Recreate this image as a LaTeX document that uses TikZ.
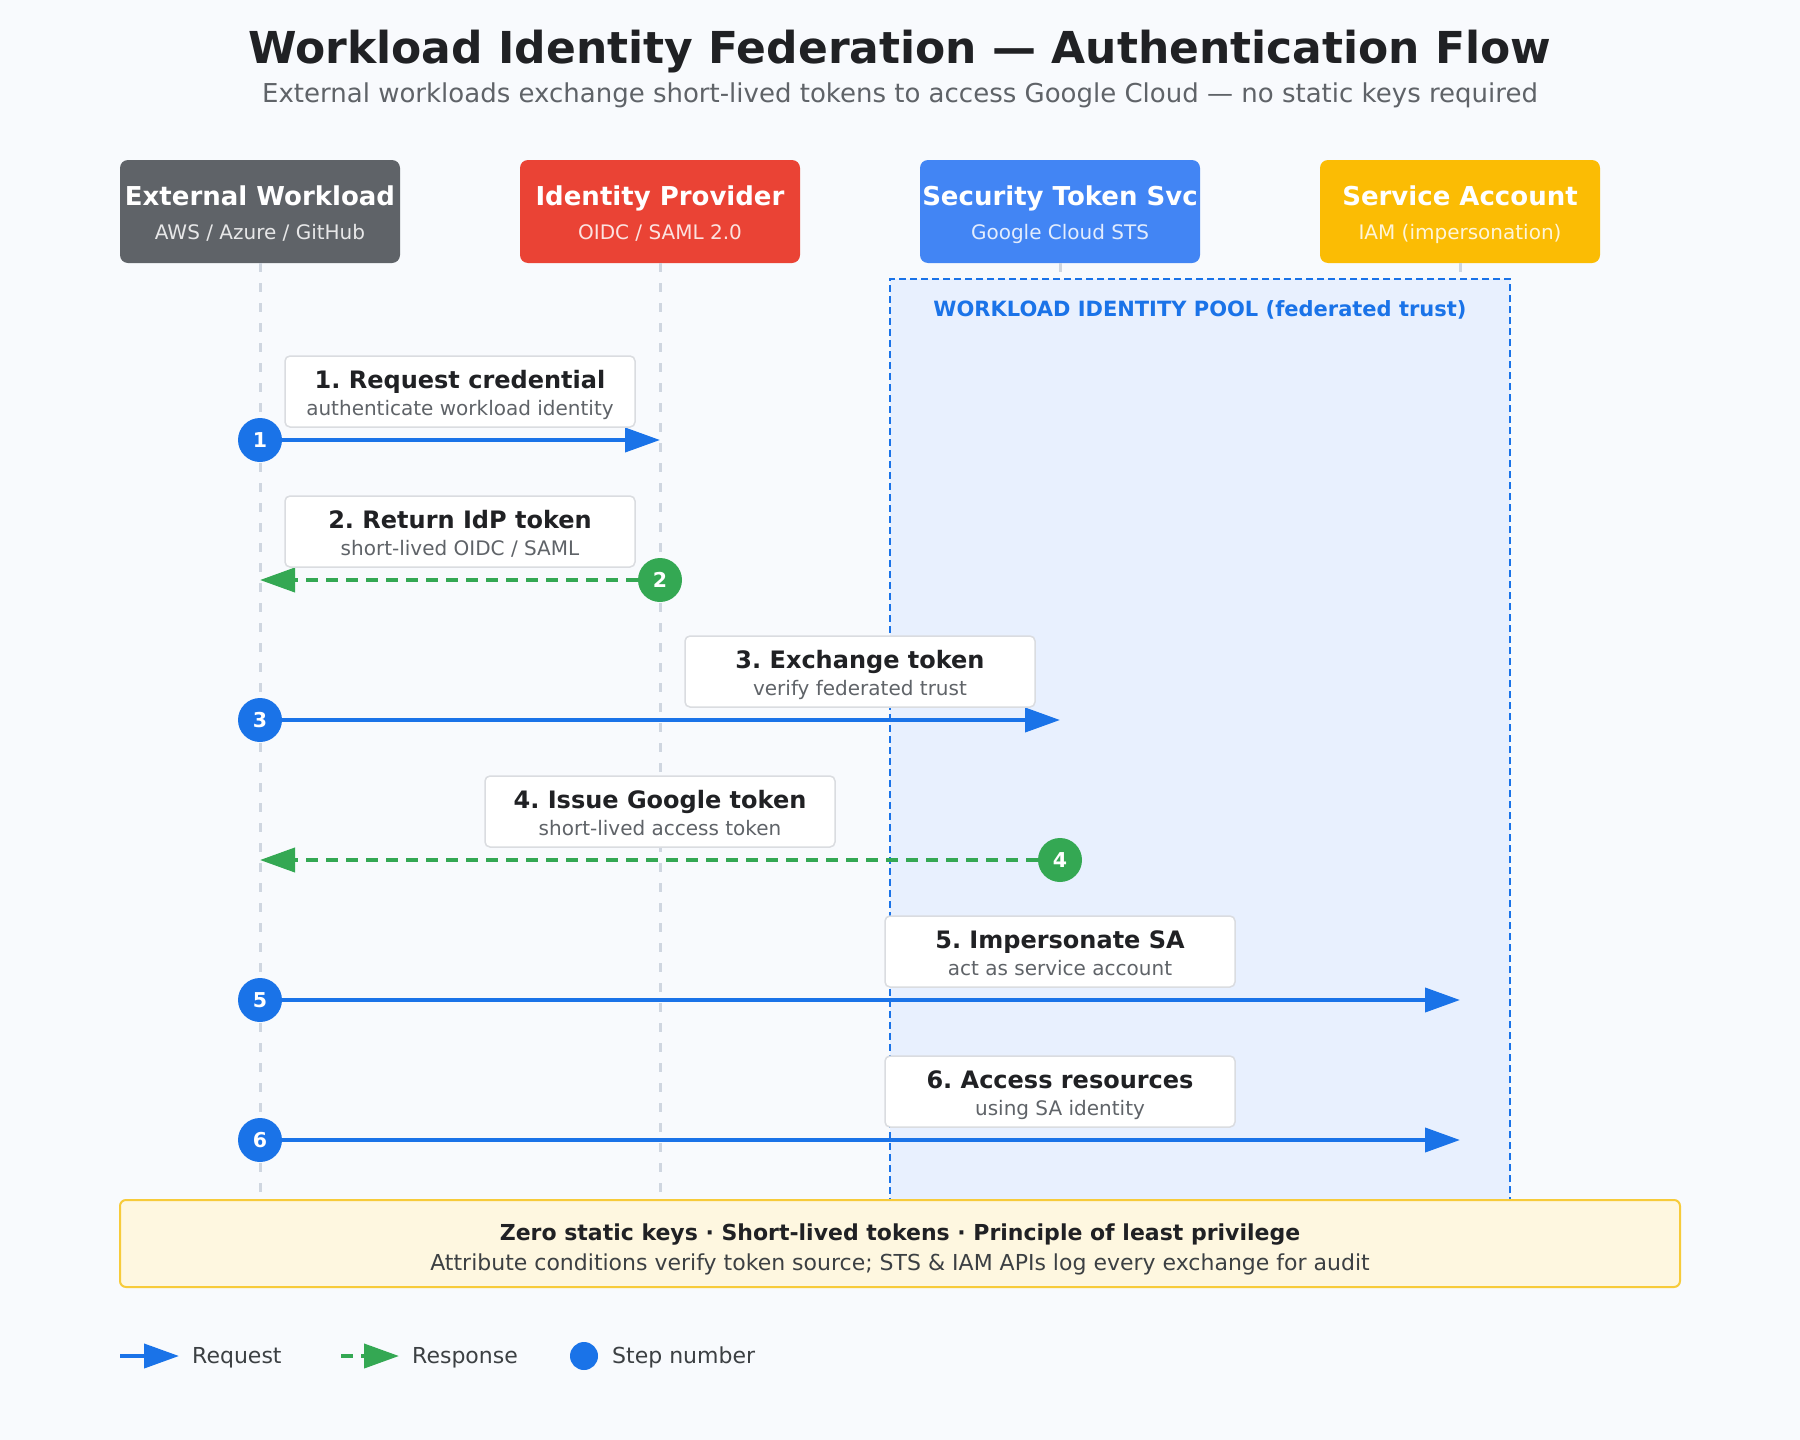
\documentclass[tikz,border=0pt]{standalone}
\usepackage{fontspec}
\setmainfont{DejaVu Sans}
\usetikzlibrary{arrows.meta}

\definecolor{bg}{HTML}{F8FAFD}
\definecolor{ink}{HTML}{202124}
\definecolor{subink}{HTML}{5F6368}
\definecolor{legendink}{HTML}{3C4043}
\definecolor{gwork}{HTML}{5F6368}
\definecolor{gred}{HTML}{EA4335}
\definecolor{gblue}{HTML}{4285F4}
\definecolor{gyellow}{HTML}{FBBC04}
\definecolor{reqblue}{HTML}{1A73E8}
\definecolor{resgreen}{HTML}{34A853}
\definecolor{poolfill}{HTML}{E8F0FE}
\definecolor{lifegray}{HTML}{CFD6E0}
\definecolor{notefill}{HTML}{FEF7E0}
\definecolor{noteedge}{HTML}{F7CB3A}
\definecolor{boxedge}{HTML}{DADCE0}

\newcommand{\fsz}[2]{\fontsize{#1}{#2}\selectfont}

\tikzset{
  txt/.style={inner sep=0pt, anchor=base},
  actor/.style={rectangle, rounded corners=8pt, minimum width=280pt, minimum height=103pt, inner sep=0pt},
  actortitle/.style={txt, text=white, font=\bfseries\fsz{26}{30}},
  actorsub/.style={txt, text=white, text opacity=0.85, font=\fsz{20}{24}},
  lifeline/.style={draw=lifegray, line width=3pt, dash pattern=on 9pt off 11pt},
  pool/.style={rectangle, fill=poolfill, draw=reqblue, line width=2.5pt, dash pattern=on 7pt off 4pt, minimum width=620pt, minimum height=921pt, inner sep=0pt},
  stepdot/.style={circle, minimum size=44pt, inner sep=0pt, text=white, font=\bfseries\fsz{20.5}{24}},
  reqline/.style={draw=reqblue, line width=4pt, -{Triangle[length=35pt,width=24pt]}},
  resline/.style={draw=resgreen, line width=4pt, dash pattern=on 12pt off 8pt, -{Triangle[length=35pt,width=24pt]}},
  msgbox/.style={rectangle, rounded corners=5pt, fill=white, draw=boxedge, line width=1.5pt, minimum width=350pt, minimum height=71pt, inner sep=0pt},
  msgtitle/.style={txt, text=ink, font=\bfseries\fsz{24}{28}},
  msgsub/.style={txt, text=subink, font=\fsz{20}{24}},
  legendtext/.style={text=legendink, font=\fsz{22}{26}, anchor=base west, inner sep=0pt}
}

\begin{document}
\frenchspacing
\begin{tikzpicture}[x=1pt, y=-1pt]
  % canvas
  \fill[bg] (0,0) rectangle (1800,1440);
  \useasboundingbox (0,0) rectangle (1800,1440);

  % heading
  \node[txt, text=ink, font=\bfseries\fsz{44}{50}] (title) at (900,63) {Workload Identity Federation — Authentication Flow};
  \node[txt, text=subink, font=\fsz{26}{30}] (subtitle) at (900,102.5) {External workloads exchange short-lived tokens to access Google Cloud — no static keys required};

  % participants
  \node[actor, fill=gwork]   (ew)  at (260,211.5) {};
  \node[actor, fill=gred]    (idp) at (660,211.5) {};
  \node[actor, fill=gblue]   (sts) at (1060,211.5) {};
  \node[actor, fill=gyellow] (sa)  at (1460,211.5) {};

  \node[actortitle] (ewT)  at (260,205)  {External Workload};
  \node[actorsub]   (ewS)  at (260,239)  {AWS / Azure / GitHub};
  \node[actortitle] (idpT) at (660,205)  {Identity Provider};
  \node[actorsub]   (idpS) at (660,239)  {OIDC / SAML 2.0};
  \node[actortitle] (stsT) at (1060,205) {Security Token Svc};
  \node[actorsub]   (stsS) at (1060,239) {Google Cloud STS};
  \node[actortitle] (saT)  at (1460,205) {Service Account};
  \node[actorsub]   (saS)  at (1460,239) {IAM (impersonation)};

  % lifelines
  \coordinate (ewEnd)  at (260,1198);
  \coordinate (idpEnd) at (660,1198);
  \coordinate (stsEnd) at (1060,1198);
  \coordinate (saEnd)  at (1460,1198);
  \draw[lifeline] (ew.south)  -- (ewEnd);
  \draw[lifeline] (idp.south) -- (idpEnd);
  \draw[lifeline] (sts.south) -- (stsEnd);
  \draw[lifeline] (sa.south)  -- (saEnd);

  % trust boundary
  \node[pool] (pool) at (1200,739.5) {};
  \node[txt, text=reqblue, font=\bfseries\fsz{21}{25}] (poolT) at (1200,316) {WORKLOAD IDENTITY POOL (federated trust)};

  % step 1
  \coordinate (t1) at (660,440);
  \node[stepdot, fill=reqblue] (s1) at (260,440) {1};
  \draw[reqline] (s1) -- (t1);
  \node[msgbox] (m1) at (460,391.5) {};
  \node[msgtitle] (m1T) at (460,388) {1. Request credential};
  \node[msgsub]   (m1S) at (460,415.5) {authenticate workload identity};

  % step 2
  \coordinate (t2) at (260,580);
  \node[stepdot, fill=resgreen] (s2) at (660,580) {2};
  \draw[resline] (s2) -- (t2);
  \node[msgbox] (m2) at (460,531.5) {};
  \node[msgtitle] (m2T) at (460,528) {2. Return IdP token};
  \node[msgsub]   (m2S) at (460,555.5) {short-lived OIDC / SAML};

  % step 3
  \coordinate (t3) at (1060,720);
  \node[stepdot, fill=reqblue] (s3) at (260,720) {3};
  \draw[reqline] (s3) -- (t3);
  \node[msgbox] (m3) at (860,671.5) {};
  \node[msgtitle] (m3T) at (860,668) {3. Exchange token};
  \node[msgsub]   (m3S) at (860,695.5) {verify federated trust};

  % step 4
  \coordinate (t4) at (260,860);
  \node[stepdot, fill=resgreen] (s4) at (1060,860) {4};
  \draw[resline] (s4) -- (t4);
  \node[msgbox] (m4) at (660,811.5) {};
  \node[msgtitle] (m4T) at (660,808) {4. Issue Google token};
  \node[msgsub]   (m4S) at (660,835.5) {short-lived access token};

  % step 5
  \coordinate (t5) at (1460,1000);
  \node[stepdot, fill=reqblue] (s5) at (260,1000) {5};
  \draw[reqline] (s5) -- (t5);
  \node[msgbox] (m5) at (1060,951.5) {};
  \node[msgtitle] (m5T) at (1060,948) {5. Impersonate SA};
  \node[msgsub]   (m5S) at (1060,975.5) {act as service account};

  % step 6
  \coordinate (t6) at (1460,1140);
  \node[stepdot, fill=reqblue] (s6) at (260,1140) {6};
  \draw[reqline] (s6) -- (t6);
  \node[msgbox] (m6) at (1060,1091.5) {};
  \node[msgtitle] (m6T) at (1060,1088) {6. Access resources};
  \node[msgsub]   (m6S) at (1060,1115.5) {using SA identity};

  % summary banner
  \node[rectangle, rounded corners=6pt, fill=notefill, draw=noteedge, line width=2pt, minimum width=1560pt, minimum height=87pt, inner sep=0pt] (note) at (900,1243.5) {};
  \node[txt, text=ink, font=\bfseries\fsz{22}{26}] (noteT) at (900,1240) {Zero static keys · Short-lived tokens · Principle of least privilege};
  \node[txt, text=legendink, font=\fsz{22}{26}] (noteS) at (900,1270.5) {Attribute conditions verify token source; STS \& IAM APIs log every exchange for audit};

  % legend
  \coordinate (lgReqA) at (120,1356);
  \coordinate (lgReqB) at (179,1356);
  \draw[reqline] (lgReqA) -- (lgReqB);
  \node[legendtext] (lgReq) at (192,1363.5) {Request};
  \coordinate (lgResA) at (341,1356);
  \coordinate (lgResB) at (399,1356);
  \draw[resline] (lgResA) -- (lgResB);
  \node[legendtext] (lgRes) at (412,1363.5) {Response};
  \node[circle, fill=reqblue, minimum size=28pt, inner sep=0pt] (lgDot) at (584,1356) {};
  \node[legendtext] (lgStep) at (612,1363.5) {Step number};
\end{tikzpicture}
\end{document}
